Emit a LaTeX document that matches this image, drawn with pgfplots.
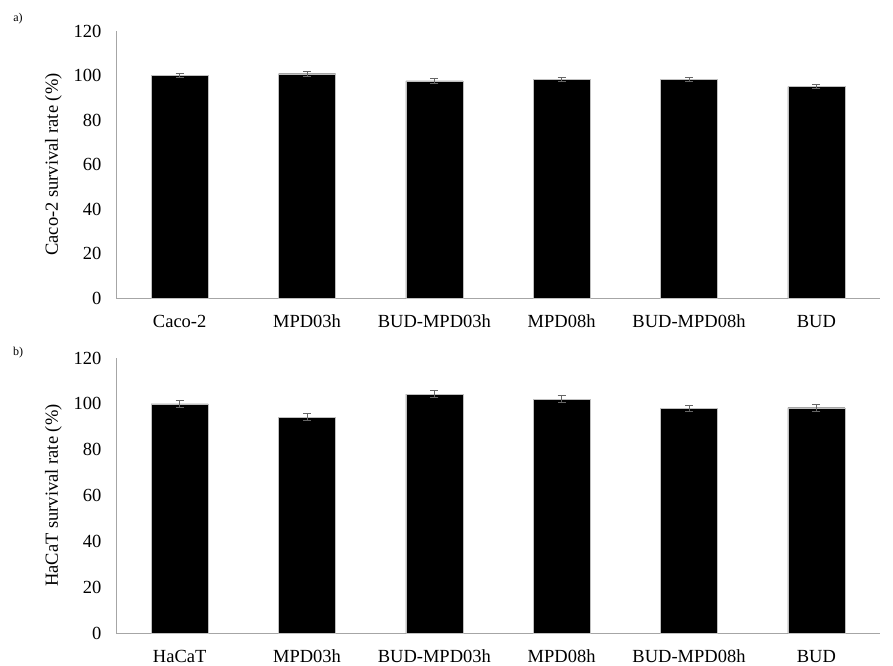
\documentclass[border=0pt]{standalone}
\usepackage{fontspec}
\setmainfont{Liberation Serif}
\usepackage{pgfplots}
\pgfplotsset{compat=1.18}

\pgfplotsset{
  survival/.style={
    scale only axis,
    width=764pt,
    xmin=-0.5, xmax=5.5,
    ymin=0, ymax=120,
    ytick={0,20,...,120},
    xtick={0,...,5},
    axis x line=bottom,
    axis y line=left,
    axis line style={draw=gray!70, line width=0.8pt, -},
    major tick length=0pt,
    tick style={draw=none},
    /pgf/number format/assume math mode=true,
    ticklabel style={font=\fontsize{18.5}{21}\selectfont},
    yticklabel style={xshift=-11pt},
    xticklabel style={anchor=base, yshift=-29pt},
    ybar, bar width=57pt,
    ylabel style={font=\fontsize{18.5}{21}\selectfont},
  },
  survivalbars/.style={
    fill=black, draw=gray!50, line width=0.4pt,
    error bars/.cd, y dir=both, y explicit,
    error bar style={draw=gray!80!black, line width=0.9pt},
    error mark options={rotate=90, mark size=4pt, draw=gray!80!black, line width=0.9pt},
  },
}

\begin{document}
\begin{tikzpicture}[x=1pt,y=1pt]
\path[use as bounding box] (0,0) rectangle (893,665);

% panel a) Caco-2 cells
\begin{axis}[survival,
  at={(116pt,367pt)}, anchor=south west, height=267pt,
  xticklabels={Caco-2, MPD03h, BUD-MPD03h, MPD08h, BUD-MPD08h, BUD},
  ylabel={Caco-2 survival rate (\%)},
  ylabel style={at={(axis description cs:-0.082,0.5)}, anchor=center},
]
\addplot[survivalbars] coordinates {
  (0,100.0) +- (0,1.0)
  (1,100.8) +- (0,1.1)
  (2,97.6)  +- (0,1.1)
  (3,98.3)  +- (0,1.0)
  (4,98.3)  +- (0,1.0)
  (5,95.0)  +- (0,1.0)
};
\end{axis}

% panel b) HaCaT cells
\begin{axis}[survival,
  at={(116pt,32pt)}, anchor=south west, height=275pt,
  xticklabels={HaCaT, MPD03h, BUD-MPD03h, MPD08h, BUD-MPD08h, BUD},
  ylabel={HaCaT survival rate (\%)},
  ylabel style={at={(axis description cs:-0.082,0.5)}, anchor=center},
]
\addplot[survivalbars] coordinates {
  (0,100.0) +- (0,1.5)
  (1,94.2)  +- (0,1.6)
  (2,104.2) +- (0,1.5)
  (3,102.0) +- (0,1.6)
  (4,98.0)  +- (0,1.5)
  (5,98.3)  +- (0,1.5)
};
\end{axis}

\node[font=\fontsize{12}{14}\selectfont] at (18,646) {a)};
\node[font=\fontsize{12}{14}\selectfont] at (18,312) {b)};
\end{tikzpicture}
\end{document}
